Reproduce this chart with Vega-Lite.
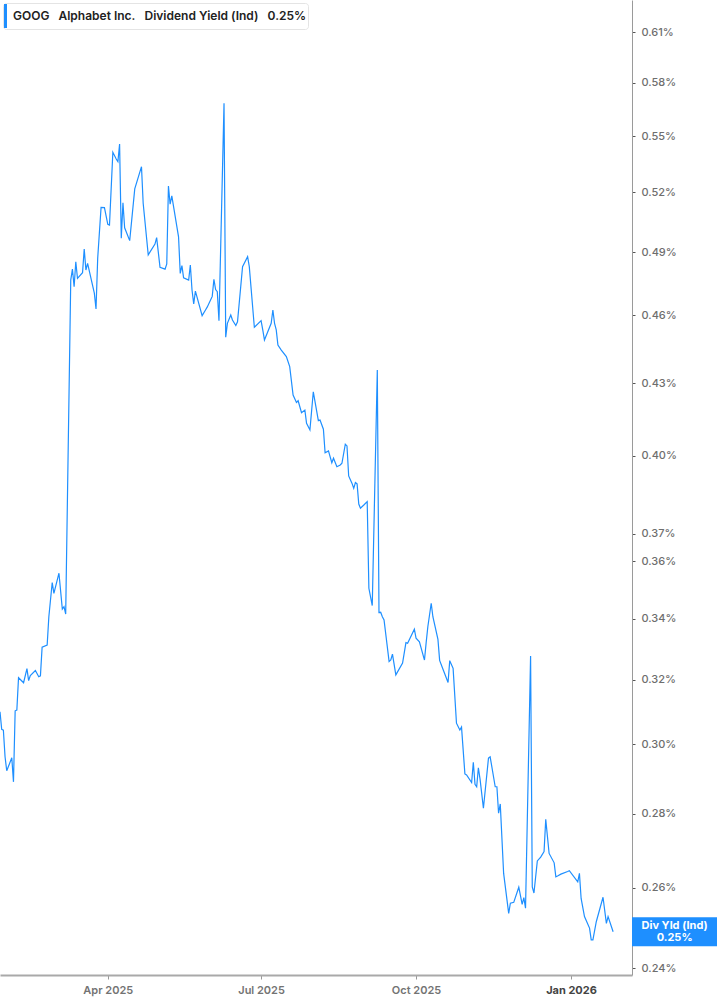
{
  "$schema": "https://vega.github.io/schema/vega-lite/v6.json",
  "width": 632,
  "height": 975,
  "autosize": "none",
  "padding": {"left": 0, "top": 0, "right": 85, "bottom": 30},
  "background": "white",
  "config": {
    "view": {"stroke": null},
    "font": "Inter"
  },
  "data": {
    "values": [
      {"date": "2025-01-27", "yield": 0.3099}, {"date": "2025-01-28", "yield": 0.3045},
      {"date": "2025-01-29", "yield": 0.3043}, {"date": "2025-01-30", "yield": 0.2963},
      {"date": "2025-01-31", "yield": 0.2922}, {"date": "2025-02-03", "yield": 0.2960},
      {"date": "2025-02-04", "yield": 0.2890}, {"date": "2025-02-05", "yield": 0.3102},
      {"date": "2025-02-06", "yield": 0.3104}, {"date": "2025-02-07", "yield": 0.3206},
      {"date": "2025-02-10", "yield": 0.3190}, {"date": "2025-02-12", "yield": 0.3235},
      {"date": "2025-02-13", "yield": 0.3197}, {"date": "2025-02-14", "yield": 0.3213},
      {"date": "2025-02-17", "yield": 0.3229}, {"date": "2025-02-19", "yield": 0.3209},
      {"date": "2025-02-20", "yield": 0.3212}, {"date": "2025-02-21", "yield": 0.3305},
      {"date": "2025-02-24", "yield": 0.3312}, {"date": "2025-02-25", "yield": 0.3407},
      {"date": "2025-02-27", "yield": 0.3525}, {"date": "2025-02-28", "yield": 0.3487},
      {"date": "2025-03-03", "yield": 0.3558}, {"date": "2025-03-05", "yield": 0.3433},
      {"date": "2025-03-06", "yield": 0.3441}, {"date": "2025-03-07", "yield": 0.3416},
      {"date": "2025-03-10", "yield": 0.4765}, {"date": "2025-03-11", "yield": 0.4817},
      {"date": "2025-03-12", "yield": 0.4734}, {"date": "2025-03-13", "yield": 0.4853},
      {"date": "2025-03-14", "yield": 0.4773}, {"date": "2025-03-17", "yield": 0.4800},
      {"date": "2025-03-18", "yield": 0.4915}, {"date": "2025-03-19", "yield": 0.4813},
      {"date": "2025-03-20", "yield": 0.4845}, {"date": "2025-03-24", "yield": 0.4703},
      {"date": "2025-03-25", "yield": 0.4630}, {"date": "2025-03-26", "yield": 0.4870},
      {"date": "2025-03-28", "yield": 0.5123}, {"date": "2025-03-30", "yield": 0.5122},
      {"date": "2025-04-01", "yield": 0.5037}, {"date": "2025-04-02", "yield": 0.5033},
      {"date": "2025-04-04", "yield": 0.5412}, {"date": "2025-04-06", "yield": 0.5376},
      {"date": "2025-04-07", "yield": 0.5362}, {"date": "2025-04-08", "yield": 0.5457},
      {"date": "2025-04-09", "yield": 0.4968}, {"date": "2025-04-10", "yield": 0.5147},
      {"date": "2025-04-11", "yield": 0.5020}, {"date": "2025-04-14", "yield": 0.4956},
      {"date": "2025-04-17", "yield": 0.5218}, {"date": "2025-04-21", "yield": 0.5335},
      {"date": "2025-04-22", "yield": 0.5144}, {"date": "2025-04-25", "yield": 0.4886},
      {"date": "2025-04-29", "yield": 0.4939}, {"date": "2025-04-30", "yield": 0.4971},
      {"date": "2025-05-02", "yield": 0.4826}, {"date": "2025-05-05", "yield": 0.4817},
      {"date": "2025-05-06", "yield": 0.4842}, {"date": "2025-05-07", "yield": 0.5233},
      {"date": "2025-05-08", "yield": 0.5139}, {"date": "2025-05-09", "yield": 0.5182},
      {"date": "2025-05-13", "yield": 0.4975}, {"date": "2025-05-14", "yield": 0.4797},
      {"date": "2025-05-15", "yield": 0.4834}, {"date": "2025-05-16", "yield": 0.4776},
      {"date": "2025-05-19", "yield": 0.4765}, {"date": "2025-05-20", "yield": 0.4837},
      {"date": "2025-05-21", "yield": 0.4718}, {"date": "2025-05-22", "yield": 0.4653},
      {"date": "2025-05-23", "yield": 0.4713}, {"date": "2025-05-27", "yield": 0.4599},
      {"date": "2025-05-29", "yield": 0.4625}, {"date": "2025-05-30", "yield": 0.4638},
      {"date": "2025-06-02", "yield": 0.4688}, {"date": "2025-06-03", "yield": 0.4769},
      {"date": "2025-06-04", "yield": 0.4720}, {"date": "2025-06-05", "yield": 0.4710},
      {"date": "2025-06-06", "yield": 0.4576}, {"date": "2025-06-09", "yield": 0.5683},
      {"date": "2025-06-10", "yield": 0.4501}, {"date": "2025-06-11", "yield": 0.4564},
      {"date": "2025-06-13", "yield": 0.4602}, {"date": "2025-06-14", "yield": 0.4579},
      {"date": "2025-06-16", "yield": 0.4554}, {"date": "2025-06-17", "yield": 0.4571},
      {"date": "2025-06-20", "yield": 0.4829}, {"date": "2025-06-23", "yield": 0.4877},
      {"date": "2025-06-24", "yield": 0.4829}, {"date": "2025-06-27", "yield": 0.4546},
      {"date": "2025-07-01", "yield": 0.4576}, {"date": "2025-07-02", "yield": 0.4534},
      {"date": "2025-07-03", "yield": 0.4489}, {"date": "2025-07-07", "yield": 0.4564},
      {"date": "2025-07-08", "yield": 0.4625}, {"date": "2025-07-09", "yield": 0.4564},
      {"date": "2025-07-10", "yield": 0.4534}, {"date": "2025-07-11", "yield": 0.4466},
      {"date": "2025-07-13", "yield": 0.4444}, {"date": "2025-07-16", "yield": 0.4415},
      {"date": "2025-07-18", "yield": 0.4371}, {"date": "2025-07-20", "yield": 0.4249},
      {"date": "2025-07-22", "yield": 0.4218}, {"date": "2025-07-23", "yield": 0.4225},
      {"date": "2025-07-25", "yield": 0.4175}, {"date": "2025-07-27", "yield": 0.4186},
      {"date": "2025-07-28", "yield": 0.4131}, {"date": "2025-07-30", "yield": 0.4104},
      {"date": "2025-08-01", "yield": 0.4263}, {"date": "2025-08-04", "yield": 0.4142},
      {"date": "2025-08-05", "yield": 0.4145}, {"date": "2025-08-07", "yield": 0.4107},
      {"date": "2025-08-08", "yield": 0.4012}, {"date": "2025-08-10", "yield": 0.4019},
      {"date": "2025-08-12", "yield": 0.3972}, {"date": "2025-08-13", "yield": 0.3990},
      {"date": "2025-08-15", "yield": 0.3956}, {"date": "2025-08-17", "yield": 0.3963},
      {"date": "2025-08-18", "yield": 0.3970}, {"date": "2025-08-20", "yield": 0.4046},
      {"date": "2025-08-21", "yield": 0.4039}, {"date": "2025-08-22", "yield": 0.3920},
      {"date": "2025-08-24", "yield": 0.3891}, {"date": "2025-08-25", "yield": 0.3872},
      {"date": "2025-08-26", "yield": 0.3894}, {"date": "2025-08-27", "yield": 0.3889},
      {"date": "2025-08-28", "yield": 0.3812}, {"date": "2025-08-29", "yield": 0.3796},
      {"date": "2025-08-31", "yield": 0.3808}, {"date": "2025-09-02", "yield": 0.3821},
      {"date": "2025-09-03", "yield": 0.3505}, {"date": "2025-09-05", "yield": 0.3445},
      {"date": "2025-09-08", "yield": 0.4357}, {"date": "2025-09-09", "yield": 0.3421},
      {"date": "2025-09-10", "yield": 0.3422}, {"date": "2025-09-11", "yield": 0.3407},
      {"date": "2025-09-12", "yield": 0.3396}, {"date": "2025-09-15", "yield": 0.3258},
      {"date": "2025-09-16", "yield": 0.3263}, {"date": "2025-09-17", "yield": 0.3282},
      {"date": "2025-09-19", "yield": 0.3215}, {"date": "2025-09-23", "yield": 0.3253},
      {"date": "2025-09-25", "yield": 0.3320}, {"date": "2025-09-26", "yield": 0.3318},
      {"date": "2025-09-30", "yield": 0.3365}, {"date": "2025-10-01", "yield": 0.3335},
      {"date": "2025-10-03", "yield": 0.3323}, {"date": "2025-10-06", "yield": 0.3263},
      {"date": "2025-10-07", "yield": 0.3320}, {"date": "2025-10-08", "yield": 0.3373},
      {"date": "2025-10-10", "yield": 0.3453}, {"date": "2025-10-11", "yield": 0.3407},
      {"date": "2025-10-14", "yield": 0.3331}, {"date": "2025-10-15", "yield": 0.3262},
      {"date": "2025-10-17", "yield": 0.3233}, {"date": "2025-10-20", "yield": 0.3191},
      {"date": "2025-10-21", "yield": 0.3261}, {"date": "2025-10-23", "yield": 0.3236},
      {"date": "2025-10-25", "yield": 0.3064}, {"date": "2025-10-27", "yield": 0.3043},
      {"date": "2025-10-28", "yield": 0.3052}, {"date": "2025-10-30", "yield": 0.2913},
      {"date": "2025-10-31", "yield": 0.2910}, {"date": "2025-11-03", "yield": 0.2888},
      {"date": "2025-11-04", "yield": 0.2947}, {"date": "2025-11-05", "yield": 0.2883},
      {"date": "2025-11-06", "yield": 0.2876}, {"date": "2025-11-07", "yield": 0.2931},
      {"date": "2025-11-08", "yield": 0.2898}, {"date": "2025-11-10", "yield": 0.2815},
      {"date": "2025-11-13", "yield": 0.2959}, {"date": "2025-11-14", "yield": 0.2963},
      {"date": "2025-11-17", "yield": 0.2876}, {"date": "2025-11-18", "yield": 0.2876},
      {"date": "2025-11-19", "yield": 0.2801}, {"date": "2025-11-20", "yield": 0.2827},
      {"date": "2025-11-22", "yield": 0.2638}, {"date": "2025-11-25", "yield": 0.2535},
      {"date": "2025-11-26", "yield": 0.2561}, {"date": "2025-11-28", "yield": 0.2563},
      {"date": "2025-12-01", "yield": 0.2602}, {"date": "2025-12-03", "yield": 0.2558},
      {"date": "2025-12-04", "yield": 0.2575}, {"date": "2025-12-05", "yield": 0.2548},
      {"date": "2025-12-08", "yield": 0.3276}, {"date": "2025-12-09", "yield": 0.2603},
      {"date": "2025-12-10", "yield": 0.2587}, {"date": "2025-12-12", "yield": 0.2671},
      {"date": "2025-12-14", "yield": 0.2681}, {"date": "2025-12-16", "yield": 0.2696},
      {"date": "2025-12-17", "yield": 0.2784}, {"date": "2025-12-19", "yield": 0.2691},
      {"date": "2025-12-22", "yield": 0.2666}, {"date": "2025-12-23", "yield": 0.2629},
      {"date": "2025-12-24", "yield": 0.2631}, {"date": "2025-12-26", "yield": 0.2636},
      {"date": "2025-12-30", "yield": 0.2643}, {"date": "2025-12-31", "yield": 0.2645},
      {"date": "2026-01-05", "yield": 0.2616}, {"date": "2026-01-06", "yield": 0.2638},
      {"date": "2026-01-07", "yield": 0.2573}, {"date": "2026-01-09", "yield": 0.2527},
      {"date": "2026-01-12", "yield": 0.2498}, {"date": "2026-01-13", "yield": 0.2469},
      {"date": "2026-01-14", "yield": 0.2469}, {"date": "2026-01-16", "yield": 0.2514},
      {"date": "2026-01-20", "yield": 0.2576}, {"date": "2026-01-22", "yield": 0.2510},
      {"date": "2026-01-23", "yield": 0.2527}, {"date": "2026-01-26", "yield": 0.2489}
    ]
  },
  "encoding": {
    "x": {
      "field": "date",
      "type": "temporal",
      "title": null,
      "scale": {
        "type": "utc",
        "domain": [
          {"year": 2025, "month": 1, "date": 27, "utc": true},
          {"year": 2026, "month": 2, "date": 6, "hours": 5, "utc": true}
        ]
      },
      "axis": {
        "values": [
          {"year": 2025, "month": 4, "date": 1, "utc": true},
          {"year": 2025, "month": 7, "date": 1, "utc": true},
          {"year": 2025, "month": 10, "date": 1, "utc": true},
          {"year": 2026, "month": 1, "date": 1, "utc": true}
        ],
        "labelExpr": "utcFormat(datum.value, '%b %Y')",
        "grid": false,
        "domainColor": "#a9a9a9",
        "domainWidth": 2,
        "tickColor": "#999999",
        "tickSize": 4,
        "labelPadding": 5,
        "labelFont": "Inter",
        "labelFontSize": 11,
        "labelFontWeight": {"condition": {"test": "utcmonth(datum.value) === 0", "value": "bold"}, "value": 600},
        "labelColor": {"condition": {"test": "utcmonth(datum.value) === 0", "value": "#444444"}, "value": "#737373"}
      }
    },
    "y": {
      "field": "yield",
      "type": "quantitative",
      "title": null,
      "scale": {"type": "log", "domain": [0.2384, 0.6299], "nice": false, "zero": false, "padding": 0},
      "axis": {
        "orient": "right",
        "values": [0.24, 0.26, 0.28, 0.30, 0.32, 0.34, 0.36, 0.37, 0.40, 0.43, 0.46, 0.49, 0.52, 0.55, 0.58, 0.61],
        "labelExpr": "format(datum.value, '.2f') + '%'",
        "grid": false,
        "domainColor": "#9a9a9a",
        "tickColor": "#555555",
        "tickSize": 3,
        "labelPadding": 6,
        "labelFont": "Inter",
        "labelFontSize": 11,
        "labelFontWeight": 500,
        "labelColor": "#6e6e6e"
      }
    }
  },
  "layer": [
    {
      "mark": {"type": "line", "strokeWidth": 1.2, "interpolate": "linear"},
      "encoding": {
        "color": {
          "datum": "GOOG\u00a0\u00a0\u00a0Alphabet Inc.\u00a0\u00a0\u00a0Dividend Yield (Ind)\u00a0\u00a0\u00a00.25%\u00a0\u00a0\u00a0",
          "type": "nominal",
          "scale": {"range": ["#1e8fff"]},
          "legend": {
            "title": null,
            "orient": "top-left",
            "offset": 3,
            "padding": 1,
            "fillColor": "white",
            "strokeColor": "#e4e4e4",
            "cornerRadius": 3,
            "symbolType": "M-1,-1H-0.75V1H-1Z",
            "symbolSize": 576,
            "symbolStrokeWidth": 0,
            "labelFont": "Inter",
            "labelFontSize": 12,
            "labelFontWeight": 600,
            "labelColor": "#222222",
            "labelLimit": 600,
            "labelOffset": -15,
            "encode": {
              "symbols": {"update": {"fill": {"value": "#1e8fff"}, "stroke": {"value": "transparent"}}}
            }
          }
        }
      }
    },
    {
      "transform": [
        {"window": [{"op": "row_number", "as": "rank"}], "sort": [{"field": "date", "order": "descending"}]},
        {"filter": "datum.rank === 1"}
      ],
      "mark": {"type": "bar", "orient": "horizontal", "size": 29, "color": "#1e8fff", "clip": false},
      "encoding": {
        "x": {"datum": {"year": 2026, "month": 2, "date": 6, "hours": 5, "utc": true}, "type": "temporal"},
        "x2": {"datum": {"year": 2026, "month": 3, "date": 29, "utc": true}}
      }
    },
    {
      "transform": [
        {"window": [{"op": "row_number", "as": "rank"}], "sort": [{"field": "date", "order": "descending"}]},
        {"filter": "datum.rank === 1"}
      ],
      "mark": {"type": "text", "color": "white", "font": "Inter", "fontSize": 11, "fontWeight": "bold", "lineHeight": 12, "baseline": "middle", "align": "center", "dy": -6, "clip": false},
      "encoding": {
        "x": {"datum": {"year": 2026, "month": 3, "date": 3, "hours": 12, "utc": true}, "type": "temporal"},
        "text": {"value": ["Div Yld (Ind)", "0.25%"]}
      }
    }
  ]
}
